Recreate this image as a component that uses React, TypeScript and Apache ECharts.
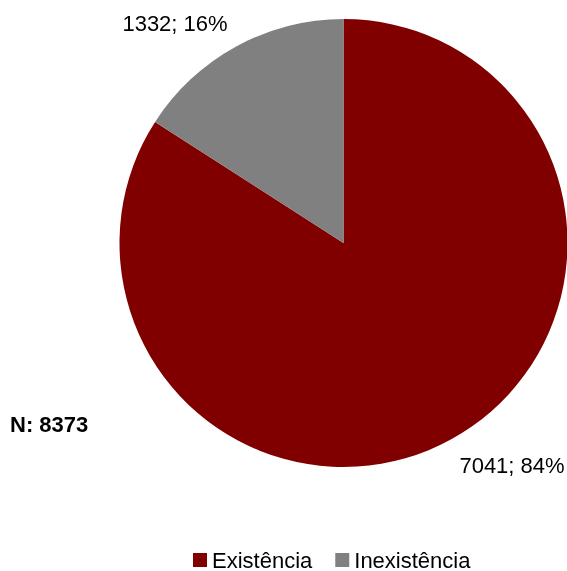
import React, { useEffect, useRef } from "react";
import * as echarts from "echarts";

const categories = ["Existência", "Inexistência"];
const values = [7041, 1332];
const colors = ["#800000", "#808080"];
const totalLabel = "N: 8373";

const FONT = "Liberation Sans, Arial, sans-serif";

export default function App() {
  const ref = useRef<HTMLDivElement>(null);
  useEffect(() => {
    if (!ref.current) return;
    const chart = echarts.init(ref.current, null, { renderer: "svg" });
    const labelPos = [
      { x: 512, y: 465 },
      { x: 175, y: 23 },
    ];
    chart.setOption({
      animation: false,
      textStyle: { fontFamily: FONT },
      legend: {
        data: categories,
        top: 549,
        left: 193,
        padding: 0,
        itemWidth: 14,
        itemHeight: 14,
        itemGap: 23,
        icon: "rect",
        textStyle: { fontSize: 22, color: "#000", fontFamily: FONT },
      },
      graphic: [
        {
          type: "text",
          left: 10,
          top: 413,
          style: {
            text: totalLabel,
            fontSize: 22,
            fontWeight: "bold",
            fill: "#000",
            fontFamily: FONT,
          },
        },
      ],
      series: [
        {
          type: "pie",
          center: [343.5, 243],
          radius: 224,
          startAngle: 90,
          clockwise: true,
          percentPrecision: 0,
          data: categories.map((c, i) => ({
            name: c,
            value: values[i],
            itemStyle: { color: colors[i] },
          })),
          label: {
            show: true,
            position: "inside",
            overflow: "none",
            formatter: "{c}; {d}%",
            fontSize: 22,
            color: "#000",
            fontFamily: FONT,
          },
          labelLine: { show: false },
          labelLayout: (params: any) => ({
            x: labelPos[params.dataIndex].x,
            y: labelPos[params.dataIndex].y,
            align: "center",
            verticalAlign: "middle",
          }),
          emphasis: { disabled: true },
        },
      ],
    });
    return () => chart.dispose();
  }, []);
  return (
    <div
      ref={ref}
      style={{ position: "fixed", left: 0, top: 0, width: 567, height: 571 }}
    />
  );
}
